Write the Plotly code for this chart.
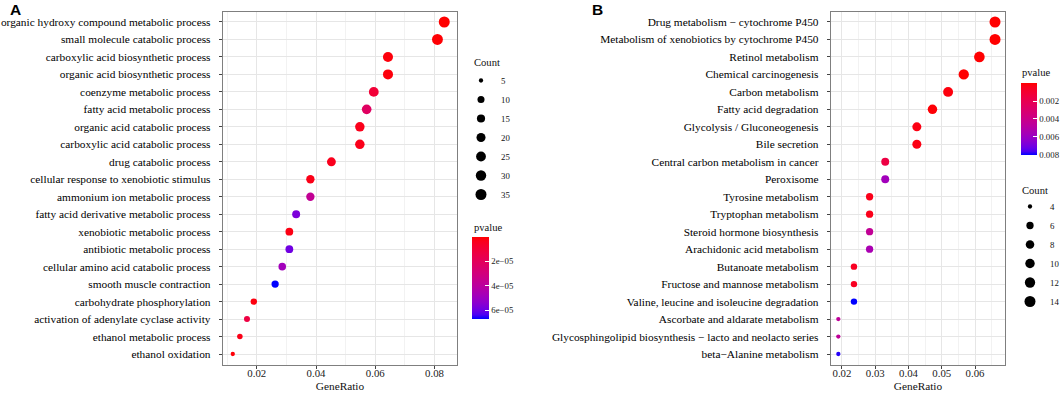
import math
import plotly.graph_objects as go

W, H = 1063, 394

# ---------------- Panel A data (GO terms), top to bottom ----------------
go_terms = [
    "organic hydroxy compound metabolic process",
    "small molecule catabolic process",
    "carboxylic acid biosynthetic process",
    "organic acid biosynthetic process",
    "coenzyme metabolic process",
    "fatty acid metabolic process",
    "organic acid catabolic process",
    "carboxylic acid catabolic process",
    "drug catabolic process",
    "cellular response to xenobiotic stimulus",
    "ammonium ion metabolic process",
    "fatty acid derivative metabolic process",
    "xenobiotic metabolic process",
    "antibiotic metabolic process",
    "cellular amino acid catabolic process",
    "smooth muscle contraction",
    "carbohydrate phosphorylation",
    "activation of adenylate cyclase activity",
    "ethanol metabolic process",
    "ethanol oxidation",
]
go_ratio = [0.0833, 0.0810, 0.0643, 0.0643, 0.0595, 0.0571, 0.0548, 0.0548,
            0.0452, 0.0381, 0.0381, 0.0333, 0.0310, 0.0310, 0.0286, 0.0262,
            0.0190, 0.0167, 0.0143, 0.0119]
go_count = [35, 34, 27, 27, 25, 24, 23, 23, 19, 16, 16, 14, 13, 13, 12, 11,
            8, 7, 6, 5]
go_pvalue = [1e-8, 5e-7, 1.5e-6, 1.5e-6, 1.0e-5, 2.2e-5, 3.5e-6, 3.5e-6,
             4e-6, 3e-6, 3.7e-5, 5.7e-5, 2.5e-6, 5.9e-5, 4.8e-5, 6.7e-5,
             2e-6, 1.3e-5, 3e-6, 1e-6]
go_count_breaks = [5, 10, 15, 20, 25, 30, 35]
go_p_ticks = [2e-5, 4e-5, 6e-5]
go_p_ticktext = ["2e\u221205", "4e\u221205", "6e\u221205"]
go_x_ticks = [0.02, 0.04, 0.06, 0.08]

# ---------------- Panel B data (KEGG pathways), top to bottom ----------------
kegg_terms = [
    "Drug metabolism \u2212 cytochrome P450",
    "Metabolism of xenobiotics by cytochrome P450",
    "Retinol metabolism",
    "Chemical carcinogenesis",
    "Carbon metabolism",
    "Fatty acid degradation",
    "Glycolysis / Gluconeogenesis",
    "Bile secretion",
    "Central carbon metabolism in cancer",
    "Peroxisome",
    "Tyrosine metabolism",
    "Tryptophan metabolism",
    "Steroid hormone biosynthesis",
    "Arachidonic acid metabolism",
    "Butanoate metabolism",
    "Fructose and mannose metabolism",
    "Valine, leucine and isoleucine degradation",
    "Ascorbate and aldarate metabolism",
    "Glycosphingolipid biosynthesis \u2212 lacto and neolacto series",
    "beta\u2212Alanine metabolism",
]
kegg_ratio = [0.0660, 0.0660, 0.0613, 0.0566, 0.0519, 0.0472, 0.0425, 0.0425,
              0.0330, 0.0330, 0.0283, 0.0283, 0.0283, 0.0283, 0.0236, 0.0236,
              0.0236, 0.0189, 0.0189, 0.0189]
kegg_count = [14, 14, 13, 12, 11, 10, 9, 9, 7, 7, 6, 6, 6, 6, 5, 5, 5, 4, 4, 4]
kegg_pvalue = [2e-6, 5e-6, 3e-5, 4e-5, 2e-4, 1e-4, 3e-4, 3e-4, 0.0016, 0.0058,
               4e-4, 4e-4, 0.0045, 0.0055, 6e-4, 6e-4, 0.0081, 0.0046, 0.0046,
               0.0079]
kegg_count_breaks = [4, 6, 8, 10, 12, 14]
kegg_p_ticks = [0.002, 0.004, 0.006, 0.008]
kegg_p_ticktext = ["0.002", "0.004", "0.006", "0.008"]
kegg_x_ticks = [0.02, 0.03, 0.04, 0.05, 0.06]

# ---------------- styling helpers ----------------
SERIF = "Liberation Serif"


def srgb_to_lab(rgb):
    def lin(c):
        c = c / 255.0
        return c / 12.92 if c <= 0.04045 else ((c + 0.055) / 1.055) ** 2.4
    r, g, b = (lin(c) for c in rgb)
    X = (0.4124 * r + 0.3576 * g + 0.1805 * b) / 0.95047
    Y = 0.2126 * r + 0.7152 * g + 0.0722 * b
    Z = (0.0193 * r + 0.1192 * g + 0.9505 * b) / 1.08883
    f = lambda t: t ** (1 / 3) if t > 0.008856 else 7.787 * t + 16 / 116
    fx, fy, fz = f(X), f(Y), f(Z)
    return (116 * fy - 16, 500 * (fx - fy), 200 * (fy - fz))


def lab_to_srgb(lab):
    L, a, b = lab
    fy = (L + 16) / 116
    fx = fy + a / 500
    fz = fy - b / 200
    finv = lambda t: t ** 3 if t ** 3 > 0.008856 else (t - 16 / 116) / 7.787
    X, Y, Z = 0.95047 * finv(fx), finv(fy), 1.08883 * finv(fz)
    r = 3.2406 * X - 1.5372 * Y - 0.4986 * Z
    g = -0.9689 * X + 1.8758 * Y + 0.0415 * Z
    bb = 0.0557 * X - 0.2040 * Y + 1.0570 * Z

    def gam(c):
        c = min(max(c, 0.0), 1.0)
        return 12.92 * c if c <= 0.0031308 else 1.055 * c ** (1 / 2.4) - 0.055
    return tuple(int(round(gam(c) * 255)) for c in (r, g, bb))


lab_red = srgb_to_lab((255, 0, 0))
lab_blue = srgb_to_lab((0, 0, 255))
n_stops = 21
colorscale = []
for i in range(n_stops):
    pos = i / (n_stops - 1)          # 0 = high p (blue, bottom), 1 = low p (red, top)
    t = 1 - pos
    lab = tuple(lab_red[k] + (lab_blue[k] - lab_red[k]) * t for k in range(3))
    r, g, b = lab_to_srgb(lab)
    colorscale.append([pos, f"rgb({r},{g},{b})"])


def size_scale(counts, lo, hi, dmin=4.3, dmax=11.0):
    return [dmin + (dmax - dmin) * math.sqrt((c - lo) / (hi - lo)) for c in counts]


def px_x(x):
    return x / W


def px_y(y):
    return 1 - y / H


fig = go.Figure()

# main dots
fig.add_trace(go.Scatter(
    x=go_ratio, y=go_terms, mode="markers", xaxis="x", yaxis="y",
    marker=dict(size=size_scale(go_count, min(go_count_breaks), max(go_count_breaks)),
                color=[-p for p in go_pvalue], coloraxis="coloraxis",
                line=dict(width=0), opacity=1),
    customdata=list(zip(go_count, go_pvalue)),
    hovertemplate="%{y}<br>GeneRatio=%{x}<br>Count=%{customdata[0]}<br>pvalue=%{customdata[1]}<extra></extra>",
    showlegend=False))
fig.add_trace(go.Scatter(
    x=kegg_ratio, y=kegg_terms, mode="markers", xaxis="x2", yaxis="y2",
    marker=dict(size=size_scale(kegg_count, min(kegg_count_breaks), max(kegg_count_breaks)),
                color=[-p for p in kegg_pvalue], coloraxis="coloraxis2",
                line=dict(width=0), opacity=1),
    customdata=list(zip(kegg_count, kegg_pvalue)),
    hovertemplate="%{y}<br>GeneRatio=%{x}<br>Count=%{customdata[0]}<br>pvalue=%{customdata[1]}<extra></extra>",
    showlegend=False))

# size legends
for c, s in zip(go_count_breaks, size_scale(go_count_breaks, min(go_count_breaks), max(go_count_breaks))):
    fig.add_trace(go.Scatter(x=[None], y=[None], mode="markers", xaxis="x", yaxis="y",
                             marker=dict(size=s, color="black"), name=str(c), legend="legend"))
for c, s in zip(kegg_count_breaks, size_scale(kegg_count_breaks, min(kegg_count_breaks), max(kegg_count_breaks))):
    fig.add_trace(go.Scatter(x=[None], y=[None], mode="markers", xaxis="x2", yaxis="y2",
                             marker=dict(size=s, color="black"), name=str(c), legend="legend2"))

y_dom = [px_y(364.5), px_y(11.5)]
grid_major = "#E6E6E6"
grid_minor = "#F2F2F2"
border = "#7F7F7F"
tick_font = dict(family=SERIF, size=11.35, color="#000000")
xtick_font = dict(family=SERIF, size=10.8, color="#222222")

common_x = dict(showline=True, mirror=True, linecolor=border, linewidth=1.4,
                ticks="outside", ticklen=3, tickcolor="#444444", tickwidth=1,
                showgrid=True, gridcolor=grid_major, gridwidth=1, zeroline=False,
                tickfont=xtick_font, ticklabelstandoff=-5,
                title=dict(text="GeneRatio", font=dict(family=SERIF, size=11.3, color="#111111"),
                           standoff=4))
common_y = dict(showline=True, mirror=True, linecolor=border, linewidth=1.4,
                ticks="outside", ticklen=3, tickcolor="#444444", tickwidth=1,
                showgrid=True, gridcolor=grid_major, gridwidth=1, zeroline=False,
                tickfont=tick_font, type="category", range=[-0.6, 19.6],
                ticklabelstandoff=6, domain=y_dom)

legend_style = dict(xanchor="left", yanchor="top", bgcolor="rgba(0,0,0,0)",
                    borderwidth=0, itemsizing="trace", tracegroupgap=0,
                    font=dict(family=SERIF, size=8.8, color="#111111"))

title_font = dict(family=SERIF, size=10.6, color="#111111")


def label(text, x, y):
    return dict(text=text, x=px_x(x), y=px_y(y), xref="paper", yref="paper",
                xanchor="left", yanchor="middle", showarrow=False, font=title_font)


fig.update_layout(
    width=W, height=H, margin=dict(l=0, r=0, t=0, b=0, autoexpand=False),
    paper_bgcolor="white", plot_bgcolor="white",
    font=dict(family=SERIF, size=11, color="#111111"),
    xaxis=dict(common_x, domain=[px_x(223), px_x(457)], range=[0.0086, 0.0876],
               tickvals=go_x_ticks, ticktext=[f"{v:.2f}" for v in go_x_ticks],
               minor=dict(dtick=0.01, tick0=0, showgrid=True, gridcolor=grid_minor, ticks="")),
    yaxis=dict(common_y, anchor="x", categoryorder="array", categoryarray=go_terms[::-1]),
    xaxis2=dict(common_x, domain=[px_x(831), px_x(1005)], anchor="y2", range=[0.0167, 0.0690],
                tickvals=kegg_x_ticks, ticktext=[f"{v:.2f}" for v in kegg_x_ticks],
                minor=dict(dtick=0.005, tick0=0, showgrid=True, gridcolor=grid_minor, ticks="")),
    yaxis2=dict(common_y, anchor="x2", categoryorder="array", categoryarray=kegg_terms[::-1]),
    coloraxis=dict(
        colorscale=colorscale, cmin=-max(go_pvalue), cmax=-min(go_pvalue),
        colorbar=dict(
            x=px_x(472.3), xanchor="left", y=px_y(236.7), yanchor="top",
            lenmode="pixels", len=82, thicknessmode="pixels", thickness=17,
            xpad=0, ypad=0, outlinewidth=0,
            tickvals=[-v for v in go_p_ticks], ticktext=go_p_ticktext,
            ticks="inside", ticklen=4, tickcolor="white", tickwidth=1,
            tickfont=dict(family=SERIF, size=8.8, color="#222222"))),
    coloraxis2=dict(
        colorscale=colorscale, cmin=-max(kegg_pvalue), cmax=-min(kegg_pvalue),
        colorbar=dict(
            x=px_x(1020.7), xanchor="left", y=px_y(83.3), yanchor="top",
            lenmode="pixels", len=72, thicknessmode="pixels", thickness=16,
            xpad=0, ypad=0, outlinewidth=0,
            tickvals=[-v for v in kegg_p_ticks], ticktext=kegg_p_ticktext,
            ticks="inside", ticklen=4, tickcolor="white", tickwidth=1,
            tickfont=dict(family=SERIF, size=8.8, color="#222222"))),
    legend=dict(legend_style, x=px_x(461), y=px_y(66)),
    legend2=dict(legend_style, x=px_x(1010), y=px_y(192)),
    annotations=[
        dict(text="<b>A</b>", x=px_x(8), y=px_y(-1), xref="paper", yref="paper",
             xanchor="left", yanchor="top", showarrow=False,
             font=dict(family="Liberation Sans", size=15.5, color="black")),
        dict(text="<b>B</b>", x=px_x(590), y=px_y(-1), xref="paper", yref="paper",
             xanchor="left", yanchor="top", showarrow=False,
             font=dict(family="Liberation Sans", size=15.5, color="black")),
        label("Count", 471.5, 63),
        label("pvalue", 471.5, 228),
        label("pvalue", 1019.5, 73),
        label("Count", 1019.5, 190),
    ],
)

fig.write_html("out.html",
               config={"displayModeBar": False},
               post_script="document.body.style.margin='0px';document.body.style.padding='0px';")
